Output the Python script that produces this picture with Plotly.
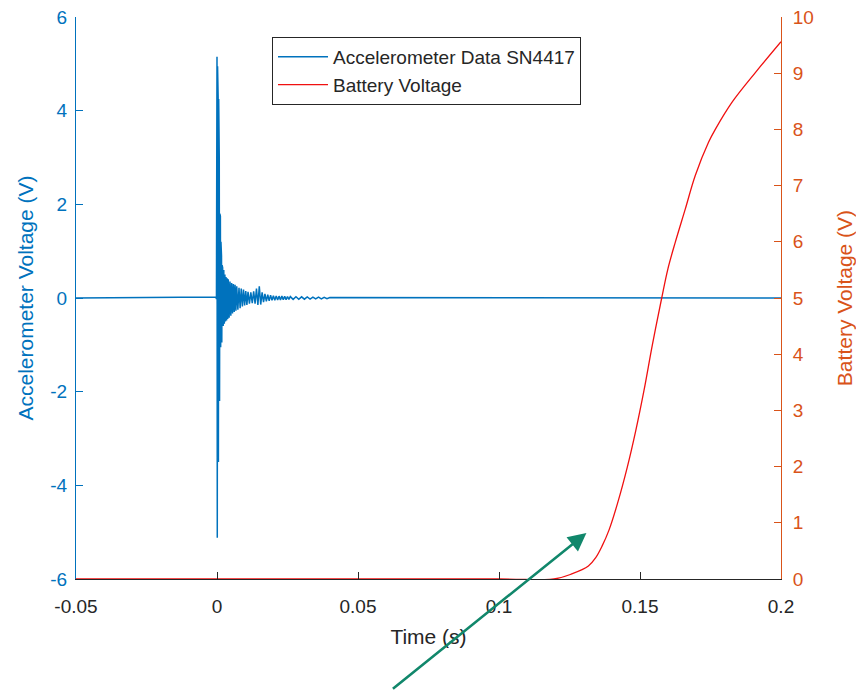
import plotly.graph_objects as go

# ---------------- data ----------------
acc_time = [
    -0.05, -0.0004, -0.0002,
    0.0000, 0.0001, 0.0002, 0.0003, 0.0004, 0.0005, 0.0006, 0.0007, 0.0008, 0.0009,
    0.0010, 0.0011, 0.0012, 0.0013, 0.0014, 0.0015, 0.0016, 0.0017, 0.0018, 0.0019,
    0.0020, 0.0022, 0.0024, 0.0026, 0.0028, 0.0030, 0.0032, 0.0034, 0.0036, 0.0038,
    0.0040, 0.0043, 0.0046, 0.0049, 0.0052, 0.0055, 0.0058, 0.0061, 0.0064, 0.0067,
    0.0070, 0.0074, 0.0078, 0.0082, 0.0086, 0.0090, 0.0094, 0.0098, 0.0102, 0.0106,
    0.0110, 0.0115, 0.0120, 0.0125, 0.0130, 0.0135, 0.0140, 0.0145, 0.0150, 0.0155,
    0.0160, 0.0165, 0.0170, 0.0175, 0.0180, 0.0185, 0.0190, 0.0195, 0.0200, 0.0205,
    0.0210, 0.0215, 0.0220, 0.0225, 0.0230, 0.0235, 0.0240, 0.0245, 0.0250, 0.0255,
    0.0260, 0.0270, 0.0280, 0.0290, 0.0300, 0.0310, 0.0320, 0.0330, 0.0340, 0.0350,
    0.0360, 0.0370, 0.0380, 0.0390, 0.0400, 0.2000,
]
acc_volts = [
    0.0, 0.02, -0.02,
    5.15, -5.12, 4.95, -4.8, 4.3, -3.5, 4.25, -3.45, 3.0, -2.2,
    1.8, -1.5, 1.75, -1.05, 1.2, -1.0, 0.9, -0.95, 0.7, -0.8,
    0.65, -0.6, 0.6, -0.55, 0.5, -0.5, 0.45, -0.48, 0.42, -0.45,
    0.4, -0.42, 0.35, -0.38, 0.32, -0.33, 0.3, -0.3, 0.28, -0.27,
    0.25, -0.25, 0.22, -0.22, 0.2, -0.18, 0.18, -0.16, 0.15, -0.15,
    0.13, -0.12, 0.12, -0.11, 0.14, -0.12, 0.2, -0.15, 0.25, -0.14,
    0.12, -0.09, 0.09, -0.07, 0.07, -0.06, 0.06, -0.05, 0.05, -0.05,
    0.045, -0.045, 0.04, -0.04, 0.04, -0.035, 0.035, -0.035, 0.03, -0.03,
    0.03, -0.03, 0.028, -0.028, 0.025, -0.025, 0.022, -0.022, 0.02, -0.02,
    0.018, -0.018, 0.015, -0.015, 0.01, 0.0,
]

batt_time = [-0.05, 0.100, 0.1195, 0.1258, 0.1317, 0.1343, 0.1365, 0.1390,
             0.1420, 0.1455, 0.1485, 0.1514, 0.1544, 0.1577, 0.1599, 0.1625,
             0.1661, 0.1696, 0.1743, 0.1767, 0.1826, 0.1909, 0.200]
batt_volts = [0, 0, 0, 0.09, 0.23, 0.38, 0.58, 0.87,
              1.34, 1.99, 2.64, 3.35, 4.17, 5.0, 5.52, 5.99,
              6.59, 7.18, 7.77, 8.0, 8.48, 9.01, 9.56]

x_tickvals = [-0.05, 0, 0.05, 0.1, 0.15, 0.2]
x_ticktext = ["-0.05", "0", "0.05", "0.1", "0.15", "0.2"]
yl_tickvals = [-6, -4, -2, 0, 2, 4, 6]
yl_ticktext = ["-6", "-4", "-2", "0", "2", "4", "6"]
yr_tickvals = [0, 1, 2, 3, 4, 5, 6, 7, 8, 9, 10]

series_names = ["Accelerometer Data SN4417", "Battery Voltage"]

# arrow target (time, battery volts)
arrow_tip = (0.131, 0.82)

# ---------------- style ----------------
BLUE = "#0072BD"
ORANGE = "#D95319"
RED = "#F01010"
DARK = "#262626"
FONT = "Liberation Sans, Arial, sans-serif"

fig = go.Figure()
fig.add_trace(go.Scatter(
    x=acc_time, y=acc_volts, mode="lines", name=series_names[0],
    line=dict(color=BLUE, width=1.5), yaxis="y"))
fig.add_trace(go.Scatter(
    x=batt_time, y=batt_volts, mode="lines", name=series_names[1],
    line=dict(color=RED, width=1.3, shape="spline", smoothing=1.0), yaxis="y2"))

fig.update_layout(
    width=856, height=690,
    margin=dict(l=76, r=75, t=17, b=111, autoexpand=False),
    paper_bgcolor="white", plot_bgcolor="white",
    font=dict(family=FONT, size=19, color=DARK),
    showlegend=True,
    legend=dict(x=(272 - 76) / 705, y=(579 - 37) / 562, xanchor="left", yanchor="top",
                bgcolor="white", bordercolor=DARK, borderwidth=1,
                font=dict(size=19, color=DARK), itemwidth=50,
                tracegroupgap=0),
    xaxis=dict(range=[-0.05, 0.2], tickvals=x_tickvals, ticktext=x_ticktext,
               automargin=False, ticklabeloverflow="allow",
               showgrid=False, zeroline=False, showline=True,
               linecolor=DARK, linewidth=1, ticks="inside", ticklen=7,
               tickcolor=DARK, tickfont=dict(size=19, color=DARK),
               ticklabelstandoff=10,
               title=dict(text="Time (s)", font=dict(size=21, color=DARK),
                          standoff=13)),
    yaxis=dict(range=[-6, 6], tickvals=yl_tickvals, ticktext=yl_ticktext,
               automargin=False, ticklabeloverflow="allow",
               showgrid=False, zeroline=False, showline=True,
               linecolor=BLUE, linewidth=1, ticks="inside", ticklen=7,
               tickcolor=BLUE, tickfont=dict(size=19, color=BLUE),
               ticklabelstandoff=4,
               title=dict(text="Accelerometer Voltage (V)",
                          font=dict(size=21, color=BLUE), standoff=10)),
    yaxis2=dict(range=[0, 10], tickvals=yr_tickvals, overlaying="y", side="right",
                automargin=False, ticklabeloverflow="allow",
                showgrid=False, zeroline=False, showline=True,
                linecolor=ORANGE, linewidth=1, ticks="inside", ticklen=7,
                tickcolor=ORANGE, tickfont=dict(size=19, color=ORANGE),
                ticklabelstandoff=7,
                title=dict(text="Battery Voltage (V)",
                           font=dict(size=21, color=ORANGE), standoff=27)),
)

fig.add_annotation(
    x=arrow_tip[0], y=arrow_tip[1], xref="x", yref="y2",
    ax=-195, ay=157, axref="pixel", ayref="pixel",
    text="", showarrow=True, arrowhead=2, arrowsize=1.4, arrowwidth=2.6,
    arrowcolor="#11876B")

fig.write_html(
    "out.html",
    config={"displayModeBar": False},
    post_script="document.body.style.margin='0';"
                "document.documentElement.style.overflow='hidden';"
                "document.body.style.overflow='hidden';",
)
